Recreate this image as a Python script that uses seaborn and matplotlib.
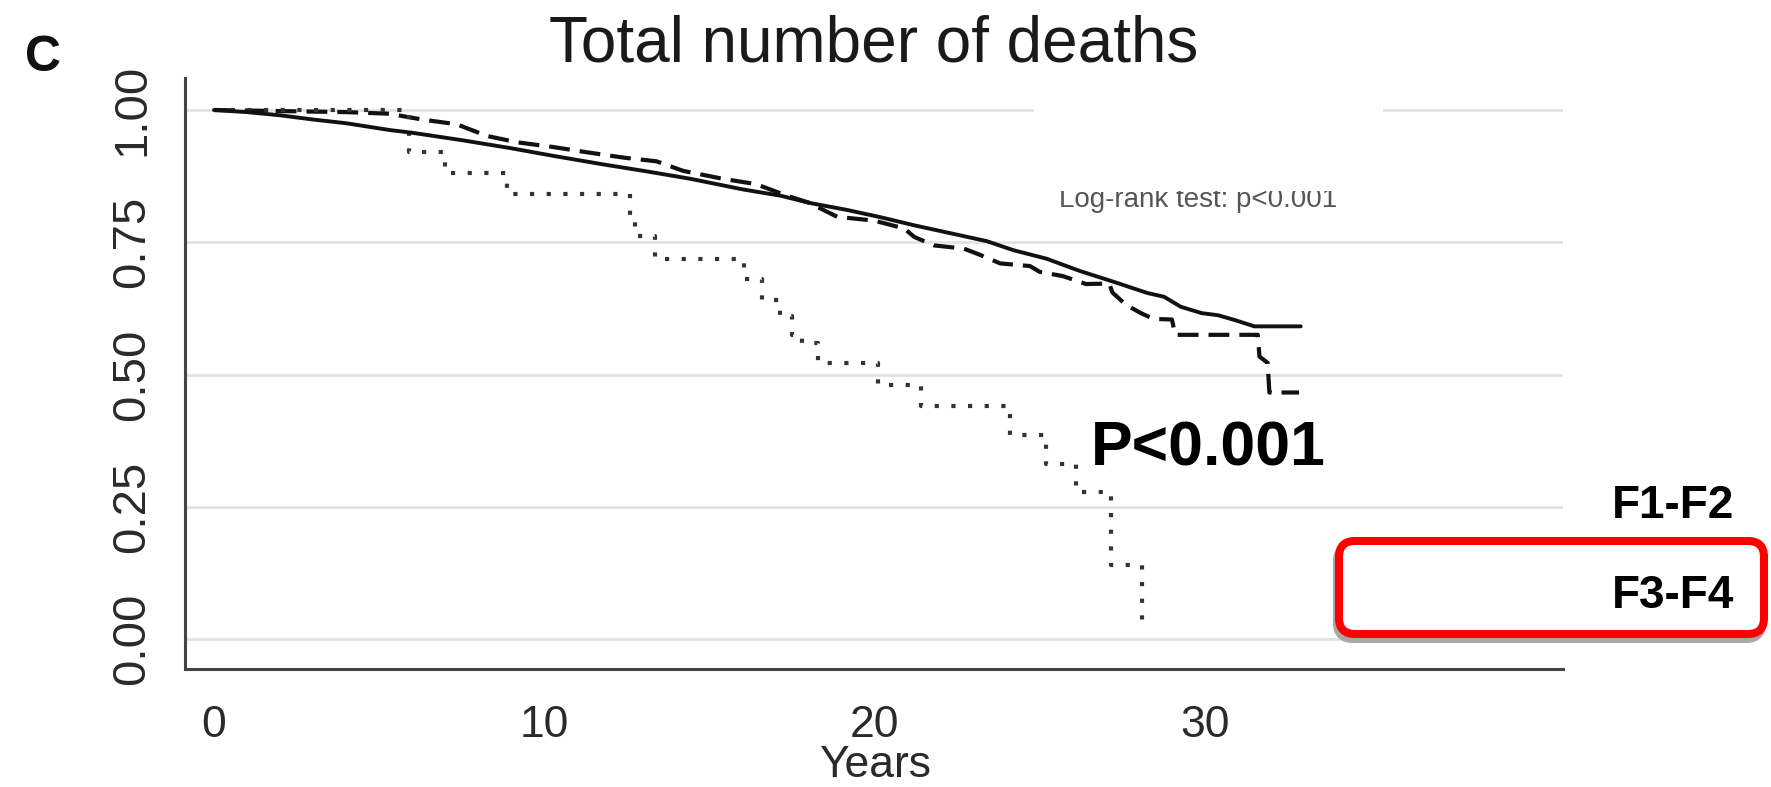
import matplotlib
matplotlib.use("Agg")
import matplotlib.pyplot as plt
import pandas as pd
import seaborn as sns
from matplotlib.patches import FancyBboxPatch, Rectangle
from matplotlib.transforms import IdentityTransform

# ---- Kaplan-Meier survival estimates (years of follow-up, survival probability) ----
years_f0 = [0, 1, 2, 3, 4, 5.33, 6.0, 7.5, 8.97, 10.3, 11.8, 13.1, 14.42, 16.0,
            17.15, 18.06, 19.17, 20.2, 21.2, 22.3, 23.4, 24.2, 25.2, 26.2, 27.2,
            28.26, 28.76, 29.27, 29.9, 30.4, 30.9, 31.5, 32.9]
surv_f0 = [1.0, 0.996, 0.99, 0.982, 0.975, 0.962, 0.957, 0.943, 0.928, 0.913, 0.897,
           0.884, 0.870, 0.850, 0.838, 0.824, 0.811, 0.797, 0.782, 0.767, 0.752,
           0.735, 0.719, 0.696, 0.676, 0.654, 0.647, 0.628, 0.616, 0.612, 0.603,
           0.591, 0.591]

years_f1f2 = [0, 2, 4, 5.3, 6.3, 7.35, 8.26, 9.17, 10.27, 11.3, 12.4, 13.4, 14.2,
              15.4, 16.4, 17.35, 18.0, 18.87, 19.98, 20.9, 21.2, 21.8, 22.7, 23.2,
              23.8, 24.7, 25.0, 25.7, 26.4, 27.1, 27.2, 27.6, 28.06, 28.45, 29.0,
              29.1, 31.6, 31.65, 31.9, 31.95, 32.85]
surv_f1f2 = [1.0, 0.998, 0.996, 0.993, 0.982, 0.973, 0.951, 0.939, 0.930, 0.920,
             0.910, 0.903, 0.885, 0.870, 0.860, 0.838, 0.825, 0.798, 0.791, 0.776,
             0.760, 0.744, 0.738, 0.726, 0.710, 0.705, 0.694, 0.686, 0.671, 0.672,
             0.655, 0.632, 0.616, 0.605, 0.604, 0.575, 0.575, 0.534, 0.522, 0.466,
             0.466]

years_f3f4 = [0, 5.9, 7.0, 8.87, 12.6, 12.75, 13.36, 16.04, 16.6, 17.15, 17.5, 17.8,
              18.3, 20.1, 21.4, 24.1, 25.2, 26.1, 27.15, 28.1]
surv_f3f4 = [1.0, 0.92, 0.88, 0.842, 0.80, 0.762, 0.719, 0.68, 0.64, 0.61, 0.575,
             0.56, 0.522, 0.481, 0.44, 0.385, 0.331, 0.278, 0.14, 0.02]

x_ticks = [0, 10, 20, 30]
y_ticks = [0.0, 0.25, 0.5, 0.75, 1.0]
y_tick_labels = ["0.00", "0.25", "0.50", "0.75", "1.00"]

panel_label = "C"
title = "Total number of deaths"
x_label = "Years"
logrank_text = "Log-rank test: p<0.001"
p_text = "P<0.001"
group_labels = ["F1-F2", "F3-F4"]

# ---- style ----
sns.set_style("white")
plt.rcParams["font.family"] = ["Liberation Sans", "DejaVu Sans"]

W, H = 1771, 787
fig = plt.figure(figsize=(W / 100, H / 100), dpi=100)


def fx(px):
    return px / W


def fy(py):
    return 1 - py / H


ax = fig.add_axes([fx(185), fy(669), (1563 - 185) / W, (669 - 78) / H])

df_f0 = pd.DataFrame({"years": years_f0, "surv": surv_f0})
df_f1f2 = pd.DataFrame({"years": years_f1f2, "surv": surv_f1f2})
df_f3f4 = pd.DataFrame({"years": years_f3f4, "surv": surv_f3f4})

sns.lineplot(data=df_f0, x="years", y="surv", ax=ax, estimator=None, sort=False,
             color="#111111", linewidth=2.8, zorder=4)
sns.lineplot(data=df_f1f2, x="years", y="surv", ax=ax, estimator=None, sort=False,
             color="#111111", linewidth=3.0, linestyle=(0, (5, 2.4)),
             dash_capstyle="butt", zorder=3)
sns.lineplot(data=df_f3f4, x="years", y="surv", ax=ax, estimator=None, sort=False,
             color="#333333", linewidth=3.0, linestyle=(0, (1, 3)),
             drawstyle="steps-post", dash_capstyle="butt", zorder=3)

ax.set_xlim(-0.878, 40.84)
ax.set_ylim(-0.0567, 1.0605)
ax.set_xticks(x_ticks)
ax.set_yticks(y_ticks)
ax.set_yticklabels(y_tick_labels)

# horizontal reference lines
ax.grid(False)
for yv in y_ticks:
    ax.axhline(yv, color="#e2e2e2", linewidth=2.0, zorder=1)

for side in ["top", "right"]:
    ax.spines[side].set_visible(False)
for side in ["left", "bottom"]:
    ax.spines[side].set_color("#444444")
    ax.spines[side].set_linewidth(2.2)

ax.tick_params(axis="both", direction="out", color="#444444", width=1.8,
               length=13, labelcolor="#2a2a2a")
ax.tick_params(axis="x", pad=13, labelsize=32)
ax.tick_params(axis="y", pad=9, labelsize=34, labelrotation=90)
for lab in ax.get_yticklabels():
    lab.set_va("center")

ax.set_ylabel("")
ax.set_xlabel(x_label, fontsize=32, color="#2a2a2a")
ax.xaxis.set_label_coords((875 - 185) / 1378, (669 - 745) / 591)
ax.xaxis.label.set_va("top")

# log-rank annotation, partly masked by a white panel
ax.text(fx(1059), fy(207), logrank_text, transform=fig.transFigure,
        fontsize=20, color="#555555", ha="left", va="baseline", zorder=2)
ax.add_patch(Rectangle((1034, H - 191), 1383 - 1034, 191 - 70,
                       transform=IdentityTransform(), facecolor="white",
                       edgecolor="none", zorder=6, clip_on=False))

# titles and annotations
fig.text(fx(25), fy(71), panel_label, fontsize=36, fontweight="bold",
         ha="left", va="baseline", color="#111111")
fig.text(fx(874), fy(62), title, fontsize=46, ha="center", va="baseline",
         color="#1a1a1a")
fig.text(fx(1091), fy(465), p_text, fontsize=45, fontweight="bold",
         ha="left", va="baseline", color="black")

# highlighted group box with drop shadow
box_x0, box_y0, box_w, box_h = 1339, H - 634, 425, 93
shadow = FancyBboxPatch((box_x0 - 2, box_y0 - 5), box_w, box_h,
                        boxstyle="round,pad=0,rounding_size=16",
                        transform=IdentityTransform(), facecolor="none",
                        edgecolor="#a8a8a8", linewidth=5.8, zorder=1)
box = FancyBboxPatch((box_x0, box_y0), box_w, box_h,
                     boxstyle="round,pad=0,rounding_size=16",
                     transform=IdentityTransform(), facecolor="white",
                     edgecolor="#ff0000", linewidth=5.8, zorder=2)
fig.add_artist(shadow)
fig.add_artist(box)

fig.text(fx(1734), fy(518), group_labels[0], fontsize=33, fontweight="bold",
         ha="right", va="baseline", color="black", zorder=5)
fig.text(fx(1734), fy(608), group_labels[1], fontsize=33, fontweight="bold",
         ha="right", va="baseline", color="black", zorder=5)

fig.savefig("out.png", dpi=100, facecolor="white")
